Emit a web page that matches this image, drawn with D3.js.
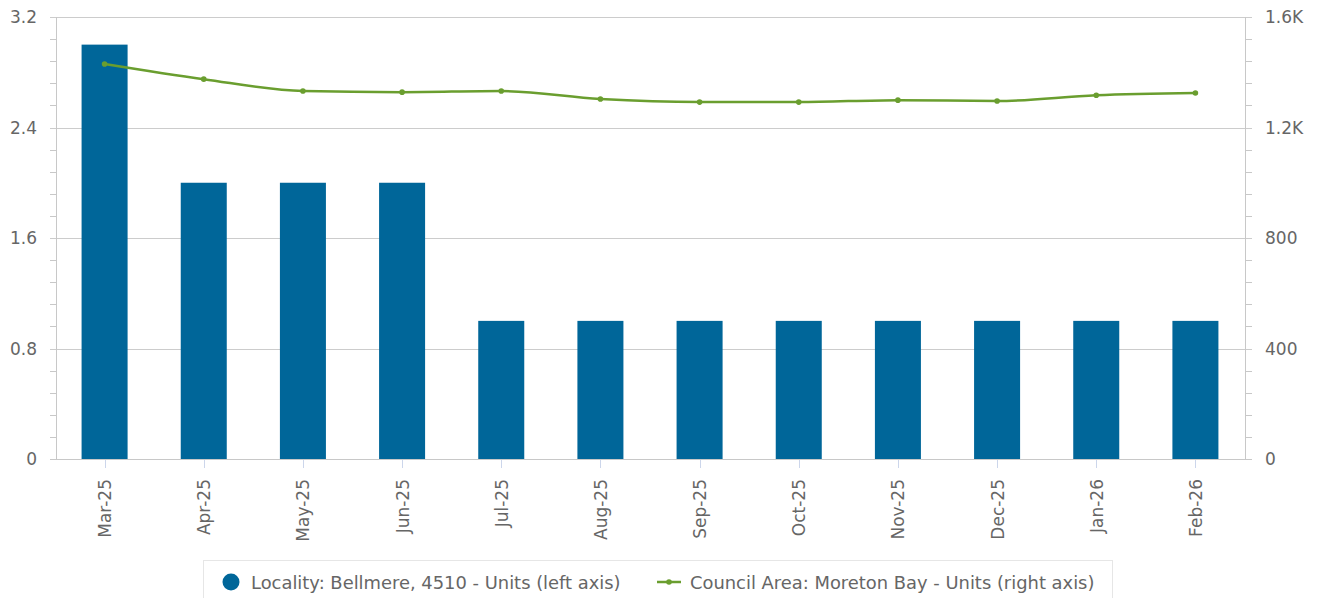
<!DOCTYPE html>
<html><head><meta charset="utf-8">
<script src="https://cdn.jsdelivr.net/npm/d3@7"></script>
<style>
html,body{margin:0;padding:0;background:#fff;}
svg{display:block;font-family:"DejaVu Sans",sans-serif;}
</style></head>
<body><svg id="c" width="1321" height="598"></svg>
<script>
const categories = ["Mar-25","Apr-25","May-25","Jun-25","Jul-25","Aug-25","Sep-25","Oct-25","Nov-25","Dec-25","Jan-26","Feb-26"];
const localityUnits = [3,2,2,2,1,1,1,1,1,1,1,1];
const councilUnits = [1430,1375,1332,1328,1332,1303,1292,1292,1299,1296,1317,1325];
const leftTicks = [0,0.8,1.6,2.4,3.2];
const leftTickLabels = ["0","0.8","1.6","2.4","3.2"];
const rightTicks = [0,400,800,1200,1600];
const rightTickLabels = ["0","400","800","1.2K","1.6K"];
const seriesNames = ["Locality: Bellmere, 4510 - Units (left axis)","Council Area: Moreton Bay - Units (right axis)"];

const svg = d3.select("#c");
const L = 56, R = 1245, T = 17, B = 459;
const textCol = "#666", gridCol = "#cccccc", axisCol = "#c8c8c8";
const barCol = "#006699", lineCol = "#6a9e2f";
const fs = 17;

const x = d3.scaleBand().domain(categories).range([55, 1245]).padding(0);
const yL = d3.scaleLinear().domain([0, 3.2]).range([B, T]);
const yR = d3.scaleLinear().domain([0, 1600]).range([B, T]);

// gridlines
svg.append("g").selectAll("line").data(leftTicks).join("line")
  .attr("x1", L - 6).attr("x2", R + 7)
  .attr("y1", d => Math.round(yL(d)) + 0.5).attr("y2", d => Math.round(yL(d)) + 0.5)
  .attr("stroke", gridCol).attr("stroke-width", 1);

// minor ticks
const minor = d3.range(0, 3.2001, 0.16).filter(v => !leftTicks.some(t => Math.abs(t - v) < 1e-6));
svg.append("g").selectAll("line").data(minor).join("line")
  .attr("x1", L - 6).attr("x2", L)
  .attr("y1", d => Math.round(yL(d)) + 0.5).attr("y2", d => Math.round(yL(d)) + 0.5)
  .attr("stroke", axisCol);
const minorR = d3.range(0, 1600.1, 80).filter(v => !rightTicks.includes(v));
svg.append("g").selectAll("line").data(minorR).join("line")
  .attr("x1", R).attr("x2", R + 7)
  .attr("y1", d => Math.round(yR(d)) + 0.5).attr("y2", d => Math.round(yR(d)) + 0.5)
  .attr("stroke", axisCol);

// axis lines
svg.append("line").attr("x1", L + 0.5).attr("x2", L + 0.5).attr("y1", T).attr("y2", B).attr("stroke", axisCol);
svg.append("line").attr("x1", R + 0.5).attr("x2", R + 0.5).attr("y1", T).attr("y2", B).attr("stroke", axisCol);

// bars
const bw = x.bandwidth() * 0.464;
svg.append("g").selectAll("rect").data(categories).join("rect")
  .attr("x", d => x(d) + x.bandwidth() / 2 - bw / 2)
  .attr("width", bw)
  .attr("y", (d, i) => yL(localityUnits[i]))
  .attr("height", (d, i) => B - yL(localityUnits[i]))
  .attr("fill", barCol);

// bottom axis line
svg.append("line").attr("x1", L - 6).attr("x2", R + 7).attr("y1", B + 0.5).attr("y2", B + 0.5).attr("stroke", axisCol);

// x ticks
svg.append("g").selectAll("line").data(categories).join("line")
  .attr("x1", d => Math.round(x(d) + x.bandwidth() / 2) + 0.5)
  .attr("x2", d => Math.round(x(d) + x.bandwidth() / 2) + 0.5)
  .attr("y1", B + 1).attr("y2", B + 9)
  .attr("stroke", "#ccd6eb");

// x labels
svg.append("g").selectAll("text").data(categories).join("text")
  .attr("transform", d => `translate(${x(d) + x.bandwidth() / 2 + 6.5},${B + 20}) rotate(-90)`)
  .attr("text-anchor", "end")
  .attr("font-size", fs).attr("fill", textCol)
  .text(d => d);

// left labels
svg.append("g").selectAll("text").data(leftTicks).join("text")
  .attr("x", 37).attr("y", d => yL(d) + 6)
  .attr("text-anchor", "end").attr("font-size", fs).attr("fill", textCol)
  .text((d, i) => leftTickLabels[i]);
// right labels
svg.append("g").selectAll("text").data(rightTicks).join("text")
  .attr("x", 1265).attr("y", d => yR(d) + 6)
  .attr("text-anchor", "start").attr("font-size", fs).attr("fill", textCol)
  .text((d, i) => rightTickLabels[i]);

// line
const cx = d => x(d) + x.bandwidth() / 2;
const line = d3.line().x((d, i) => cx(categories[i])).y(d => yR(d)).curve(d3.curveMonotoneX);
svg.append("path").datum(councilUnits).attr("d", line)
  .attr("fill", "none").attr("stroke", lineCol).attr("stroke-width", 2.5);
svg.append("g").selectAll("circle").data(councilUnits).join("circle")
  .attr("cx", (d, i) => cx(categories[i])).attr("cy", d => yR(d)).attr("r", 2.8)
  .attr("fill", lineCol);

// legend
const lfs = 17.9;
const lg = svg.append("g");
lg.append("rect").attr("x", 203.5).attr("y", 560.5).attr("width", 909).attr("height", 50)
  .attr("fill", "#fff").attr("stroke", "#e6e6e6");
lg.append("circle").attr("cx", 231).attr("cy", 582).attr("r", 8.5).attr("fill", barCol);
lg.append("text").attr("x", 251).attr("y", 588.5).attr("font-size", lfs).attr("fill", textCol).text(seriesNames[0]);
lg.append("line").attr("x1", 657).attr("x2", 681).attr("y1", 582).attr("y2", 582).attr("stroke", lineCol).attr("stroke-width", 2.5);
lg.append("circle").attr("cx", 669).attr("cy", 582).attr("r", 2.8).attr("fill", lineCol);
lg.append("text").attr("x", 690).attr("y", 588.5).attr("font-size", lfs).attr("fill", textCol).text(seriesNames[1]);
</script></body></html>
